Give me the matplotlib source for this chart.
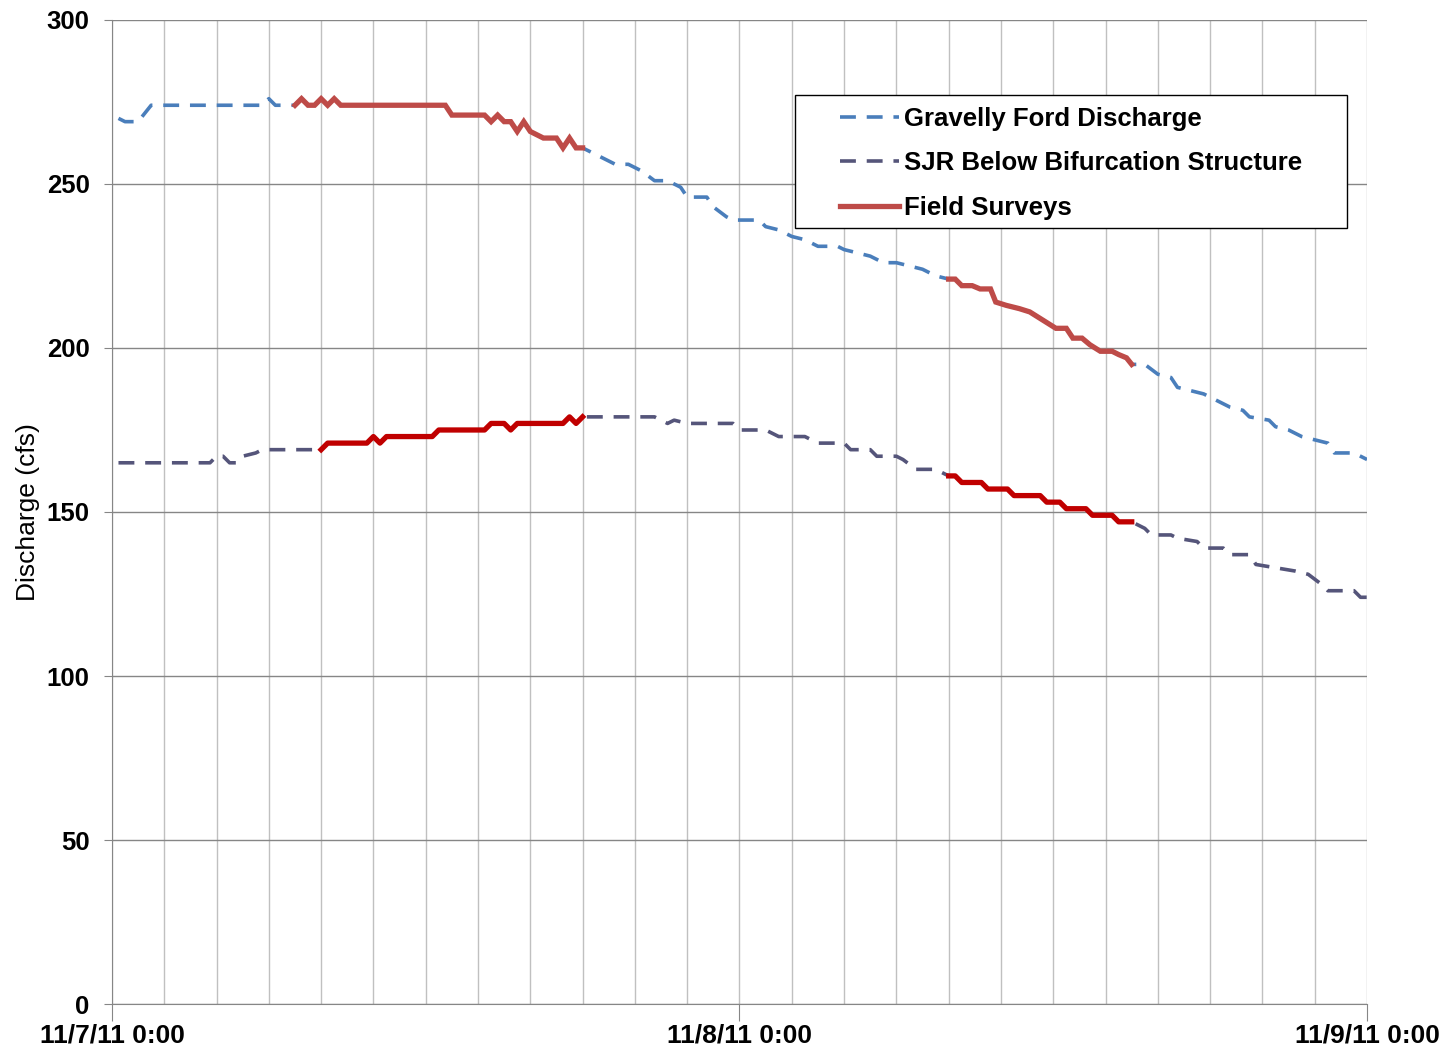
import datetime as dt
import matplotlib
matplotlib.use("Agg")
import matplotlib.pyplot as plt
import matplotlib.dates as mdates
from matplotlib.patches import Rectangle
from matplotlib.ticker import FuncFormatter, MultipleLocator

# hours after 11/7/11 0:00 and discharge (cfs)
gf_hours = [0.25, 0.5, 1.0, 1.5, 5.75, 6.0, 6.25, 7.0, 7.25, 7.5, 7.75, 8.0, 8.25, 8.5, 8.75,
            12.75, 13.0, 14.25, 14.5, 14.75, 15.0, 15.25, 15.5, 15.75, 16.0, 16.5, 17.0, 17.25,
            17.5, 17.75, 18.0, 18.25, 18.75, 19.25, 19.75, 20.25, 20.75, 21.25, 21.75, 22.0,
            22.75, 23.0, 23.5, 23.75, 24.75, 25.0, 25.5, 26.0, 26.5, 27.0, 27.75, 28.0, 28.5,
            29.0, 29.5, 30.0, 30.5, 31.0, 31.5, 32.0, 32.25, 32.5, 32.9, 33.2, 33.6, 33.8, 34.2,
            34.7, 35.1, 35.5, 35.9, 36.1, 36.5, 36.75, 37.1, 37.4, 37.8, 38.25, 38.5, 38.8, 39.0,
            39.5, 40.0, 40.5, 40.75, 41.25, 41.75, 42.25, 42.75, 43.25, 43.5, 44.25, 44.5, 45.0,
            45.5, 46.0, 46.5, 46.75, 47.5, 48.0]
gf_cfs = [270, 269, 269, 274, 274, 276, 274, 274, 276, 274, 274, 276, 274, 276, 274,
          274, 271, 271, 269, 271, 269, 269, 266, 269, 266, 264, 264, 261,
          264, 261, 261, 260, 258, 256, 256, 254, 251, 251, 249, 246,
          246, 243, 240, 239, 239, 237, 236, 234, 233, 231, 231, 230, 229,
          228, 226, 226, 225, 224, 222, 221, 221, 219, 219, 218, 218, 214, 213,
          212, 211, 209, 207, 206, 206, 203, 203, 201, 199, 199, 198, 197, 195,
          195, 192, 191, 188, 187, 186, 184, 182, 181, 179, 178, 176, 175,
          173, 172, 171, 168, 168, 166]

sjr_hours = [0.25, 3.75, 4.0, 4.25, 4.5, 4.75, 5.0, 5.5, 5.75, 8.0, 8.25, 9.75, 10.0, 10.25,
             10.5, 12.25, 12.5, 14.25, 14.5, 15.0, 15.25, 15.5, 17.25, 17.5, 17.75, 18.0,
             20.75, 21.25, 21.5, 22.0, 23.75, 24.0, 25.0, 25.5, 26.5, 27.0, 28.0, 28.25, 29.0,
             29.25, 30.0, 30.25, 30.75, 31.5, 32.0, 32.25, 32.5, 33.25, 33.5, 34.25, 34.5,
             35.5, 35.75, 36.25, 36.5, 37.25, 37.5, 38.25, 38.5, 39.0, 39.5, 39.75, 40.5,
             40.75, 41.5, 41.75, 42.5, 42.75, 43.5, 43.75, 44.5, 45.25, 45.75, 46.25, 46.5,
             47.5, 47.75, 48.0]
sjr_cfs = [165, 165, 167, 167, 165, 165, 167, 168, 169, 169, 171, 171, 173, 171,
           173, 173, 175, 175, 177, 177, 175, 177, 177, 179, 177, 179,
           179, 177, 178, 177, 177, 175, 175, 173, 173, 171, 171, 169, 169,
           167, 167, 166, 163, 163, 161, 161, 159, 159, 157, 157, 155,
           155, 153, 153, 151, 151, 149, 149, 147, 147, 145, 143, 143,
           142, 141, 139, 139, 137, 137, 134, 133, 132, 131, 128, 126,
           126, 124, 124]

# field survey windows (hours)
survey_windows = [(7.0, 18.0), (32.0, 39.0)]

start = dt.datetime(2011, 11, 7)


def to_time(hours):
    return [start + dt.timedelta(hours=h) for h in hours]


def clip(hours, vals, lo, hi):
    pts = [(h, v) for h, v in zip(hours, vals) if lo <= h <= hi]
    return [p[0] for p in pts], [p[1] for p in pts]


fig = plt.figure(figsize=(14.5, 10.51), dpi=100)
ax = fig.add_axes([0.0772, 0.0447, 0.8656, 0.9363])

ax.plot(to_time(gf_hours), gf_cfs, color="#4a7ebb", lw=2.6, dashes=(4.4, 3.0),
        label="Gravelly Ford Discharge", zorder=3)
ax.plot(to_time(sjr_hours), sjr_cfs, color="#55557a", lw=2.6, dashes=(4.4, 3.0),
        label="SJR Below Bifurcation Structure", zorder=3)

for i, (lo, hi) in enumerate(survey_windows):
    h, v = clip(gf_hours, gf_cfs, lo, hi)
    ax.plot(to_time(h), v, color="#be4b48", lw=3.8, solid_joinstyle="miter",
            label="Field Surveys" if i == 0 else None, zorder=4)
    h, v = clip(sjr_hours, sjr_cfs, lo, hi)
    ax.plot(to_time(h), v, color="#c00000", lw=3.8, zorder=4)

ax.set_xlim(start, start + dt.timedelta(days=2))
ax.set_ylim(0, 300)
ax.yaxis.set_major_locator(MultipleLocator(50))

ax.xaxis.set_major_locator(mdates.DayLocator())
ax.xaxis.set_minor_locator(mdates.HourLocator(byhour=range(0, 24, 2)))
ax.xaxis.set_major_formatter(FuncFormatter(
    lambda x, pos: "{d.month}/{d.day}/{y} {d.hour}:{d.minute:02d}".format(
        d=mdates.num2date(x), y=mdates.num2date(x).year % 100)))

ax.grid(True, axis="y", color="#868686", lw=1.0)
ax.grid(True, axis="x", which="both", color="#c0c0c0", lw=1.0)
ax.set_axisbelow(True)

for s in ["top", "right"]:
    ax.spines[s].set_visible(False)
ax.spines["left"].set_color("#868686")
ax.spines["bottom"].set_color("#868686")

ax.tick_params(axis="y", length=6, color="#868686", labelsize=18.5, pad=10)
ax.tick_params(axis="x", which="major", length=12, color="#868686", labelsize=19, pad=2)
ax.tick_params(axis="x", which="minor", length=0)
for t in ax.get_yticklabels() + ax.get_xticklabels():
    t.set_fontweight("bold")
    t.set_family("Liberation Sans")

ax.set_ylabel("Discharge (cfs)", fontsize=19, family="Liberation Sans", labelpad=5)

# legend box like the original (frame drawn separately, entries placed inside)
ax.add_patch(Rectangle((0.5442, 0.7886), 0.4399, 0.1352, transform=ax.transAxes,
                       facecolor="white", edgecolor="black", lw=1.0, zorder=5))
leg = ax.legend(loc="upper left", bbox_to_anchor=(0.580, 0.912),
                prop={"family": "Liberation Sans", "weight": "bold", "size": 18.5},
                frameon=False, handlelength=2.3, handletextpad=0.2, borderpad=0,
                labelspacing=0.8, borderaxespad=0)
leg.set_zorder(6)

fig.savefig("out.png", dpi=100)
